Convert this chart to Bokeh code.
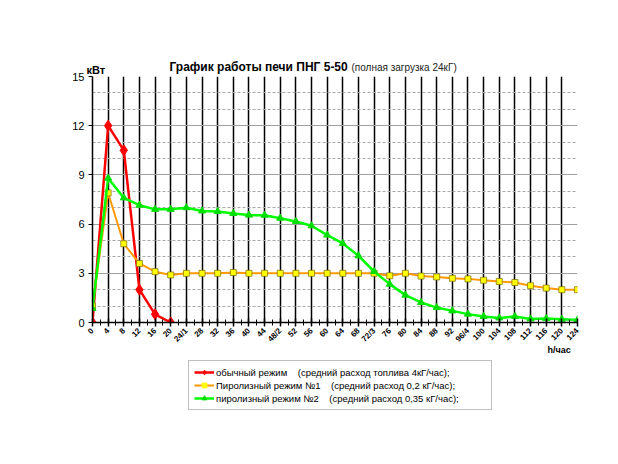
import math
from bokeh.plotting import figure
from bokeh.layouts import column
from bokeh.models import Legend, LegendItem, FixedTicker, Label, Range1d
from bokeh.embed import file_html
from bokeh.resources import INLINE

# ---- data ----
labels = ["0", "4", "8", "12", "16", "20", "24/1", "28", "32", "36", "40", "44",
          "48/2", "52", "56", "60", "64", "68", "72/3", "76", "80", "84", "88", "92",
          "96/4", "100", "104", "108", "112", "116", "120", "124"]
red = [0.0, 12.0, 10.5, 2.0, 0.5, 0.0]
yellow = [1.0, 7.9, 4.8, 3.6, 3.1, 2.9, 3.0, 3.0, 3.0, 3.05,
          3.0, 3.0, 3.0, 3.0, 3.0, 3.0, 3.0, 3.0, 3.0, 2.85,
          3.0, 2.83, 2.78, 2.7, 2.66, 2.58, 2.5, 2.44, 2.24, 2.1,
          2.0, 2.0]
green = [0.85, 8.8, 7.6, 7.15, 6.9, 6.9, 7.0, 6.8, 6.77, 6.65,
         6.55, 6.54, 6.36, 6.16, 5.9, 5.33, 4.82, 4.07, 3.11, 2.34,
         1.67, 1.22, 0.91, 0.71, 0.51, 0.37, 0.28, 0.37, 0.22, 0.24,
         0.2, 0.16]
y_major = [0, 3, 6, 9, 12, 15]
y_minor = [1, 2, 4, 5, 7, 8, 10, 11, 13, 14]
legend_labels = [
    "обычный режим\u00a0\u00a0\u00a0\u00a0(средний расход топлива 4кГ/час);",
    "Пиролизный режим №1\u00a0\u00a0\u00a0\u00a0(средний расход 0,2 кГ/час);",
    "пиролизный режим №2\u00a0\u00a0\u00a0\u00a0(средний расход 0,35 кГ/час);",
]

idx = list(range(len(labels)))
FONT = "Liberation Sans"

RED, ORANGE, YEL, GREEN, GREEN_M = "#FF0000", "#FF9900", "#FFFF00", "#00FF00", "#00DD00"

p = figure(frame_width=485, frame_height=246,
           output_backend="svg", toolbar_location=None,
           x_range=Range1d(0, len(labels) - 1), y_range=Range1d(y_major[0], y_major[-1]),
           min_border_left=92, min_border_right=23, min_border_top=76, min_border_bottom=30)
p.outline_line_color = None
p.background_fill_color = "white"
p.border_fill_color = "white"

# x axis
p.xaxis.ticker = FixedTicker(ticks=idx, minor_ticks=[i + 0.5 for i in idx[:-1]])
p.xaxis.major_label_overrides = {i: lab for i, lab in enumerate(labels)}
p.xaxis.major_label_orientation = math.pi / 4
p.xaxis.major_label_text_font = FONT
p.xaxis.major_label_text_font_size = "8px"
p.xaxis.major_label_text_font_style = "bold"
p.xaxis.major_label_text_color = "black"
p.xaxis.major_label_standoff = 3
p.xaxis.axis_line_color = "black"
p.xaxis.axis_line_width = 1.5
p.xaxis.major_tick_in = 4
p.xaxis.major_tick_out = 4
p.xaxis.major_tick_line_color = "black"
p.xaxis.major_tick_line_width = 1.5
p.xaxis.minor_tick_in = 3
p.xaxis.minor_tick_out = 3
p.xaxis.minor_tick_line_color = "black"
p.xaxis.minor_tick_line_width = 1

# y axis
p.yaxis.ticker = FixedTicker(ticks=y_major, minor_ticks=y_minor)
p.yaxis.major_label_text_font = FONT
p.yaxis.major_label_text_font_size = "11px"
p.yaxis.major_label_text_color = "black"
p.yaxis.axis_line_color = "black"
p.yaxis.axis_line_width = 1.5
p.yaxis.major_tick_in = 0
p.yaxis.major_tick_out = 4
p.yaxis.major_tick_line_color = "black"
p.yaxis.minor_tick_line_color = None
p.yaxis.major_label_standoff = 4

# grids
p.xgrid.grid_line_color = "black"
p.xgrid.grid_line_width = 1.5
p.ygrid.grid_line_color = "#a0a0a0"
p.ygrid.grid_line_width = 1
p.ygrid.minor_grid_line_color = "#a8a8a8"
p.ygrid.minor_grid_line_dash = "3 2"
p.ygrid.minor_grid_line_width = 1

# series
p.line(idx[:len(red)], red, line_color=RED, line_width=2.5)
p.scatter(idx[:len(red)], red, marker="diamond", size=11, fill_color=RED, line_color=RED)
p.line(idx[:len(yellow)], yellow, line_color=ORANGE, line_width=2)
p.scatter(idx[:len(yellow)], yellow, marker="square", size=6,
          fill_color=YEL, line_color="#7a6a00", line_width=0.7)
p.line(idx[:len(green)], green, line_color=GREEN, line_width=2.5)
p.scatter(idx[:len(green)], green, marker="triangle", size=7,
          fill_color=GREEN_M, line_color=GREEN_M)

# texts (in side panels, so they are not clipped to the frame)
p.add_layout(Label(x=77, y=10, x_units="screen", y_units="screen",
                   text="График работы печи ПНГ 5-50", text_font=FONT,
                   text_font_style="bold", text_font_size="12px",
                   text_baseline="middle", text_color="black"), "above")
p.add_layout(Label(x=259, y=-5, x_units="screen", y_units="screen",
                   text="(полная загрузка 24кГ)", text_font=FONT,
                   text_font_size="10px", text_baseline="middle", text_color="#222222"), "above")
p.add_layout(Label(x=-6, y=-18, x_units="screen", y_units="screen",
                   text="кВт", text_font=FONT, text_font_style="bold",
                   text_font_size="11px", text_baseline="middle", text_color="black"), "above")
p.add_layout(Label(x=455, y=10, x_units="screen", y_units="screen",
                   text="h/час", text_font=FONT, text_font_style="bold",
                   text_font_size="9px", text_baseline="middle", text_color="black"), "below")

# ---- legend strip (separate figure so the legend sits inside a frame);
# its renderers hold the same series but lie outside this strip's view ----
lg = figure(width=600, height=84, output_backend="svg", toolbar_location=None,
            x_range=Range1d(-20, -10), y_range=Range1d(-20, -10),
            x_axis_type=None, y_axis_type=None,
            min_border_left=0, min_border_right=0, min_border_top=0, min_border_bottom=0)
lg.outline_line_color = None
lg.grid.visible = False
lg.background_fill_color = "white"
lg.border_fill_color = "white"

lr_l = lg.line(idx[:len(red)], red, line_color=RED, line_width=2.5)
lr_m = lg.scatter(idx[:len(red)], red, marker="diamond", size=9, fill_color=RED, line_color=RED)
ly_l = lg.line(idx[:len(yellow)], yellow, line_color=ORANGE, line_width=2)
ly_m = lg.scatter(idx[:len(yellow)], yellow, marker="square", size=6, fill_color=YEL, line_color=YEL)
lgr_l = lg.line(idx[:len(green)], green, line_color=GREEN, line_width=2.5)
lgr_m = lg.scatter(idx[:len(green)], green, marker="triangle", size=7,
                   fill_color=GREEN_M, line_color=GREEN_M)

legend = Legend(items=[
    LegendItem(label=legend_labels[0], renderers=[lr_l, lr_m]),
    LegendItem(label=legend_labels[1], renderers=[ly_l, ly_m]),
    LegendItem(label=legend_labels[2], renderers=[lgr_l, lgr_m]),
], location=(96, 33))
legend.label_text_font = FONT
legend.label_text_font_size = "9.5px"
legend.label_text_color = "black"
legend.glyph_width = 20
legend.glyph_height = 12
legend.label_height = 12
legend.spacing = 1
legend.padding = 5
legend.margin = 0
legend.label_standoff = 2
legend.label_width = 270
legend.border_line_color = "#808080"
legend.border_line_width = 1
legend.background_fill_color = "white"
legend.background_fill_alpha = 1
lg.add_layout(legend)

layout = column(p, lg, spacing=0)
open("out.html", "w").write(file_html(layout, INLINE))
